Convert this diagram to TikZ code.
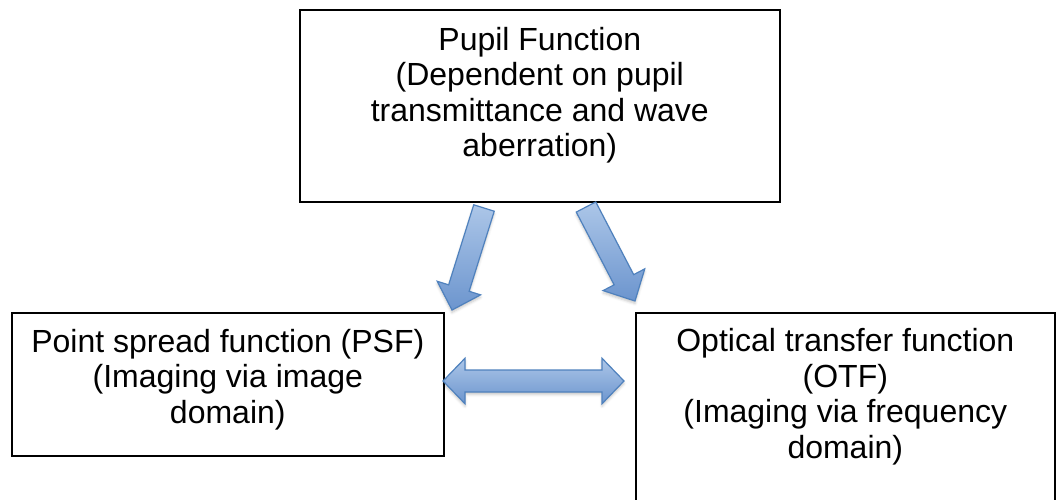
\documentclass[tikz,border=0pt]{standalone}
\usepackage{fontspec}
\setmainfont{Liberation Sans}
\usetikzlibrary{calc,shadows.blur}

\definecolor{arrowlight}{RGB}{172,198,232}
\definecolor{arrowdark}{RGB}{108,149,206}
\definecolor{arrowline}{RGB}{79,129,189}

\tikzset{
  box/.style={draw=black, line width=1.6pt, anchor=north west, inner sep=0pt},
  boxtext/.style={anchor=north, align=center, inner sep=0pt,
    font=\fontsize{32}{35.5}\selectfont},
  blockarrow/.style={draw=arrowline, line width=1.2pt, line join=miter,
    top color=arrowlight, bottom color=arrowdark,
    blur shadow={shadow xshift=0pt, shadow yshift=-2.5pt,
      shadow blur radius=2.5pt, shadow opacity=22}},
}

% Block arrow from tail #1 to tip #2:
% #3 half shaft width, #4 half head width, #5 head length
\newcommand\blockarrow[5]{%
  \coordinate (#1-base) at ($(#2)!#5!(#1)$);
  \path[blockarrow]
    ($(#1)!#3!90:(#2)$) -- ($(#1-base)!#3!90:(#2)$) --
    ($(#1-base)!#4!90:(#2)$) -- (#2) --
    ($(#1-base)!#4!-90:(#2)$) -- ($(#1-base)!#3!-90:(#2)$) --
    ($(#1)!#3!-90:(#2)$) -- cycle;}

\begin{document}
\begin{tikzpicture}[x=1pt, y=-1pt]
  \useasboundingbox (0,0) rectangle (1059,499);

  % boxes
  \node[box, minimum width=480pt, minimum height=192pt] (pupil) at (299,9) {};
  \node[box, minimum width=432pt, minimum height=143pt] (psf) at (11,312) {};
  \node[box, minimum width=419pt, minimum height=200pt] (otf) at (635,312) {};

  % box texts
  \node[boxtext] (pupiltext) at ($(pupil.north)+(0,18)$)
    {Pupil Function\\(Dependent on pupil\\transmittance and wave\\aberration)};
  \node[boxtext] (psftext) at ($(psf.north)+(0,17)$)
    {Point spread function (PSF)\\(Imaging via image\\domain)};
  \node[boxtext] (otftext) at ($(otf.north)+(0,16.5)$)
    {Optical transfer function\\(OTF)\\(Imaging via frequency\\domain)};

  % arrow end points
  \coordinate (lt) at (484,208);
  \coordinate (lh) at (452,310);
  \coordinate (rt) at (586,207);
  \coordinate (rh) at (635,301);
  \coordinate (dl) at (443,381);
  \coordinate (dr) at (624,381);

  % arrows from the pupil function
  \blockarrow{lt}{lh}{10.75pt}{22.75pt}{23pt}
  \blockarrow{rt}{rh}{11pt}{23.5pt}{24pt}

  % double arrow between PSF and OTF
  \coordinate (dlb) at ($(dl)!22pt!(dr)$);
  \coordinate (drb) at ($(dr)!22pt!(dl)$);
  \path[blockarrow]
    (dl) -- ($(dlb)!22.75pt!90:(dr)$) -- ($(dlb)!11pt!90:(dr)$) --
    ($(drb)!11pt!-90:(dl)$) -- ($(drb)!22.75pt!-90:(dl)$) -- (dr) --
    ($(drb)!22.75pt!90:(dl)$) -- ($(drb)!11pt!90:(dl)$) --
    ($(dlb)!11pt!-90:(dr)$) -- ($(dlb)!22.75pt!-90:(dr)$) -- cycle;
\end{tikzpicture}
\end{document}
